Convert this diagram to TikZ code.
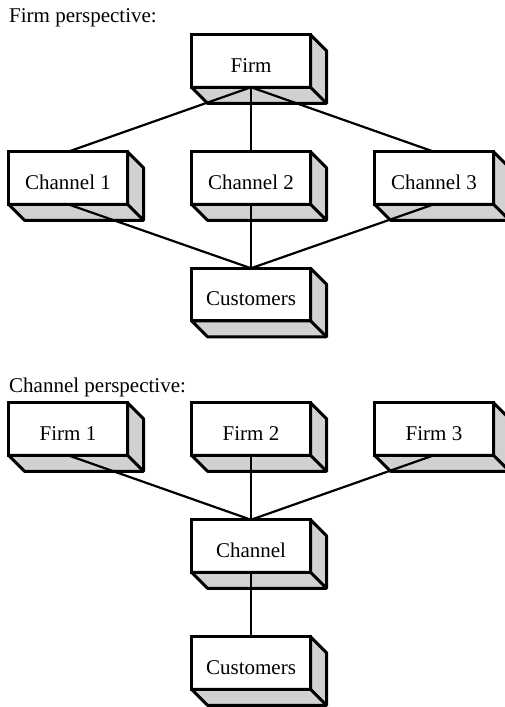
\documentclass[tikz,border=0pt]{standalone}
\usepackage{fontspec}
\setmainfont{Liberation Serif}
\usepackage{tikz}
\usetikzlibrary{calc}

\begin{document}
\begin{tikzpicture}[x=1pt,y=-1pt,
  blk/.style={draw,line width=3pt,fill=white,minimum width=119pt,minimum height=52.5pt,inner sep=0pt,outer sep=0pt,text height=22pt,text depth=0pt,font=\fontsize{21}{25}\selectfont},
  side/.style={draw,line width=3pt,fill=black!18,line join=round},
  lnk/.style={line width=2.2pt},
  ttl/.style={anchor=base west,inner sep=0pt,font=\fontsize{21}{25}\selectfont}]
\useasboundingbox (0,0) rectangle (505,707);
% firm perspective
\node[ttl] (ttlfirm) at (9,22) {Firm perspective:};
\node[blk] (firm) at (251,61) {Firm};
\node[blk] (ch1) at (68,178) {Channel 1};
\node[blk] (ch2) at (251,178) {Channel 2};
\node[blk] (ch3) at (434,178) {Channel 3};
\node[blk] (custa) at (251,294.5) {Customers};
% channel perspective
\node[ttl] (ttlchan) at (9,392) {Channel perspective:};
\node[blk] (f1) at (68,429) {Firm 1};
\node[blk] (f2) at (251,429) {Firm 2};
\node[blk] (f3) at (434,429) {Firm 3};
\node[blk] (chan) at (251,546) {Channel};
\node[blk] (custb) at (251,663) {Customers};
\foreach \n in {firm,ch1,ch2,ch3,custa,f1,f2,f3,chan,custb} {
   \filldraw[side] (\n.south west) -- ++(16,16) -- ($(\n.south east)+(16,16)$)
      -- ($(\n.north east)+(16,16)$) -- (\n.north east) -- (\n.south east) -- cycle;
   \draw[side] (\n.south east) -- ++(16,16);
}
\foreach \n in {ch1,ch2,ch3} {
   \draw[lnk] (firm.south) -- (\n.north);
   \draw[lnk] (\n.south) -- (custa.north);
}
\foreach \n in {f1,f2,f3} {
   \draw[lnk] (\n.south) -- (chan.north);
}
\draw[lnk] (chan.south) -- (custb.north);
\end{tikzpicture}
\end{document}
